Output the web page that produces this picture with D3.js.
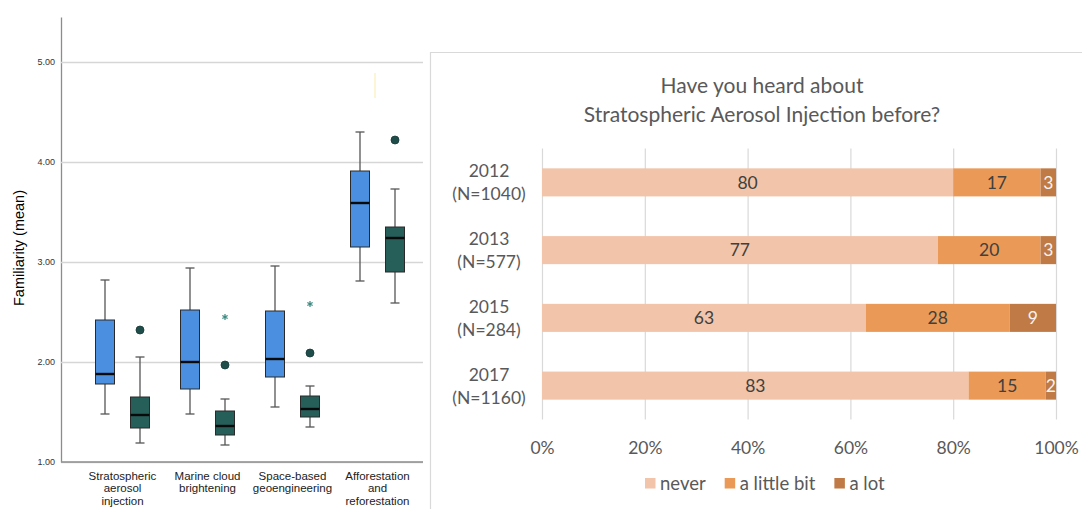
<!DOCTYPE html>
<html>
<head>
<meta charset="utf-8">
<script src="https://cdn.jsdelivr.net/npm/d3@7"></script>
<style>
  body { margin: 0; background: #fff; }
  svg { display: block; }
</style>
</head>
<body>
<script>
/******************************************************************************/
/* DATA                                                                       */
/******************************************************************************/
// left panel: familiarity box plots, two groups per method
var methods = ["Stratospheric aerosol injection", "Marine cloud brightening",
               "Space-based geoengineering", "Afforestation and reforestation"];
var methodLines = [["Stratospheric", "aerosol", "injection"],
                   ["Marine cloud", "brightening"],
                   ["Space-based", "geoengineering"],
                   ["Afforestation", "and", "reforestation"]];
var groups = ["blue", "green"];
// [lower whisker, Q1, median, Q3, upper whisker]
var blueStats  = [[1.48, 1.78, 1.88, 2.42, 2.82],
                  [1.48, 1.73, 2.00, 2.52, 2.94],
                  [1.55, 1.85, 2.03, 2.51, 2.96],
                  [2.81, 3.15, 3.59, 3.91, 4.30]];
var greenStats = [[1.19, 1.34, 1.47, 1.65, 2.05],
                  [1.17, 1.27, 1.36, 1.51, 1.63],
                  [1.35, 1.45, 1.53, 1.66, 1.76],
                  [2.59, 2.90, 3.24, 3.35, 3.73]];
var greenOutliers = [[2.32], [1.97], [2.09], [4.22]];
var greenExtremes = [[], [2.45], [2.58], []];
var familiarityTicks = [1, 2, 3, 4, 5];
var yellowMark = [4.64, 4.89];   // faint stray line above the last box

// right panel: stacked percentages
var years = ["2012", "2013", "2015", "2017"];
var sampleSizes = [1040, 577, 284, 1160];
var answers = ["never", "a little bit", "a lot"];
var never = [80, 77, 63, 83];
var littleBit = [17, 20, 28, 15];
var aLot = [3, 3, 9, 2];
var percentTicks = [0, 20, 40, 60, 80, 100];

/******************************************************************************/
/* GLOBAL                                                                     */
/******************************************************************************/
var width = 1082;
var height = 509;
var boxColors = {blue: "#4a8fe0", green: "#265e59"};
var answerColors = ["#f2c4a9", "#ea9a56", "#c07a45"];
var excelGrey = "#595959";

var svg = d3.select("body").append("svg")
  .attr("width", width)
  .attr("height", height);

/******************************************************************************/
/* BOX PLOTS                                                                  */
/******************************************************************************/
var drawBoxPanel = function() {
  var g = svg.append("g");
  var y = d3.scaleLinear().domain([1, 5.45]).range([462, 17]);
  var x = d3.scaleBand().domain(methods).range([80, 420]);
  var xg = d3.scalePoint().domain(groups).range([-17.5, 17.5]);
  var left = 61, right = 423;

  // grid + y axis
  var yAxis = g.append("g")
    .attr("transform", "translate(" + left + ",0)")
    .call(d3.axisLeft(y).tickValues(familiarityTicks)
      .tickSize(-(right - left)).tickSizeOuter(0).tickPadding(6)
      .tickFormat(d3.format(".2f")));
  yAxis.select(".domain").attr("stroke", "#8c8c8c").attr("stroke-width", 1.3);
  yAxis.selectAll(".tick line").attr("stroke", "#d6d6d6").attr("stroke-width", 1.3);
  yAxis.selectAll(".tick text")
    .attr("font-family", "Liberation Sans, Arial, sans-serif")
    .attr("font-size", 9).attr("fill", "#333");

  g.append("line")
    .attr("x1", left).attr("x2", right)
    .attr("y1", y(1)).attr("y2", y(1))
    .attr("stroke", "#8c8c8c").attr("stroke-width", 1.3);

  g.append("text")
    .attr("transform", "translate(24," + 248 + ") rotate(-90)")
    .attr("text-anchor", "middle")
    .attr("font-family", "Liberation Sans, Arial, sans-serif")
    .attr("font-size", 14.5)
    .attr("fill", "#000")
    .text("Familiarity (mean)");

  // category labels
  methods.forEach(function(m, i) {
    var t = g.append("text")
      .attr("text-anchor", "middle")
      .attr("font-family", "Liberation Sans, Arial, sans-serif")
      .attr("font-size", 11.5)
      .attr("fill", "#222");
    methodLines[i].forEach(function(line, j) {
      t.append("tspan")
        .attr("x", x(m) + x.bandwidth() / 2)
        .attr("y", 480 + j * 12.3)
        .text(line);
    });
  });

  var boxes = [];
  methods.forEach(function(m, i) {
    boxes.push({method: m, group: "blue", s: blueStats[i], out: [], ext: []});
    boxes.push({method: m, group: "green", s: greenStats[i],
                out: greenOutliers[i], ext: greenExtremes[i]});
  });

  var bw = 19, cap = 9;
  var box = g.selectAll("g.box").data(boxes).enter().append("g")
    .attr("class", "box")
    .attr("transform", function(d) {
      return "translate(" + (x(d.method) + x.bandwidth() / 2 + xg(d.group)) + ",0)";
    });

  // whiskers
  box.append("line")
    .attr("y1", function(d) { return y(d.s[0]); })
    .attr("y2", function(d) { return y(d.s[4]); })
    .attr("stroke", "#555").attr("stroke-width", 1.3);
  box.selectAll("line.cap").data(function(d) { return [d.s[0], d.s[4]]; })
    .enter().append("line")
    .attr("class", "cap")
    .attr("x1", -cap / 2).attr("x2", cap / 2)
    .attr("y1", function(v) { return y(v); })
    .attr("y2", function(v) { return y(v); })
    .attr("stroke", "#555").attr("stroke-width", 1.3);

  // box
  box.append("rect")
    .attr("x", -bw / 2).attr("width", bw)
    .attr("y", function(d) { return y(d.s[3]); })
    .attr("height", function(d) { return y(d.s[1]) - y(d.s[3]); })
    .attr("fill", function(d) { return boxColors[d.group]; })
    .attr("stroke", "#2a2a2a").attr("stroke-width", 1);

  // median
  box.append("line")
    .attr("x1", -bw / 2).attr("x2", bw / 2)
    .attr("y1", function(d) { return y(d.s[2]); })
    .attr("y2", function(d) { return y(d.s[2]); })
    .attr("stroke", "#0a0a0a").attr("stroke-width", 2.4);

  // outliers (circles) and extremes (stars)
  box.selectAll("circle").data(function(d) { return d.out; })
    .enter().append("circle")
    .attr("cy", function(v) { return y(v); })
    .attr("r", 4)
    .attr("fill", "#1e4d4a").attr("stroke", "#153836").attr("stroke-width", 0.8);
  box.selectAll("path.star").data(function(d) { return d.ext; })
    .enter().append("path")
    .attr("class", "star")
    .attr("transform", function(v) { return "translate(0," + y(v) + ")"; })
    .attr("d", d3.symbol().type(d3.symbolAsterisk).size(26))
    .attr("fill", "none").attr("stroke", "#3c8a80").attr("stroke-width", 1.2);

  // faint stray mark
  g.append("line")
    .attr("x1", 375).attr("x2", 375)
    .attr("y1", y(yellowMark[0])).attr("y2", y(yellowMark[1]))
    .attr("stroke", "#fbf0b8").attr("stroke-width", 1.2);
};

/******************************************************************************/
/* STACKED BARS                                                               */
/******************************************************************************/
var drawBarPanel = function() {
  var g = svg.append("g");
  var font = "Lato, 'Open Sans', sans-serif";
  var top = 148.5, bottom = 419.5;
  var x = d3.scaleLinear().domain([0, 100]).range([542, 1056]);
  var y = d3.scaleBand().domain(years).range([top, bottom])
    .paddingInner(0.586).paddingOuter(0.293);

  // panel border
  g.append("path")
    .attr("d", "M430.5," + height + "V52.5H" + width)
    .attr("fill", "none").attr("stroke", "#d9d9d9").attr("stroke-width", 1.2);

  // title
  var title = g.append("text")
    .attr("text-anchor", "middle")
    .attr("font-family", font).attr("font-size", 21)
    .attr("fill", excelGrey);
  title.append("tspan").attr("x", 762).attr("y", 93).text("Have you heard about");
  title.append("tspan").attr("x", 762).attr("y", 122).text("Stratospheric Aerosol Injection before?");

  // grid + x axis
  var xAxis = g.append("g")
    .attr("transform", "translate(0," + bottom + ")")
    .call(d3.axisBottom(x).tickValues(percentTicks)
      .tickSize(-(bottom - top)).tickSizeOuter(0).tickPadding(22)
      .tickFormat(function(d) { return d + "%"; }));
  xAxis.select(".domain").remove();
  xAxis.selectAll(".tick line").attr("stroke", "#d9d9d9").attr("stroke-width", 1.2);
  xAxis.selectAll(".tick text")
    .attr("font-family", font).attr("font-size", 17.5).attr("fill", excelGrey);

  // stacked bars
  var table = years.map(function(yr, i) {
    return {year: yr, "never": never[i], "a little bit": littleBit[i], "a lot": aLot[i]};
  });
  var series = d3.stack().keys(answers)(table);

  var layer = g.selectAll("g.layer").data(series).enter().append("g")
    .attr("class", "layer")
    .attr("fill", function(d, i) { return answerColors[i]; });

  layer.selectAll("rect").data(function(d) { return d; })
    .enter().append("rect")
    .attr("x", function(d) { return x(d[0]); })
    .attr("width", function(d) { return x(d[1]) - x(d[0]); })
    .attr("y", function(d) { return y(d.data.year); })
    .attr("height", y.bandwidth());

  layer.selectAll("text").data(function(d, i) {
      return d.map(function(p) { return {p: p, i: i}; });
    })
    .enter().append("text")
    .attr("x", function(d) { return (x(d.p[0]) + x(d.p[1])) / 2; })
    .attr("y", function(d) { return y(d.p.data.year) + y.bandwidth() / 2; })
    .attr("dy", "0.36em")
    .attr("text-anchor", "middle")
    .attr("font-family", font).attr("font-size", 17.5)
    .attr("fill", function(d) { return d.i === 2 ? "#f4f4f4" : "#404040"; })
    .text(function(d) { return d.p[1] - d.p[0]; });

  // category labels
  years.forEach(function(yr, i) {
    var cy = y(yr) + y.bandwidth() / 2;
    var t = g.append("text")
      .attr("text-anchor", "middle")
      .attr("font-family", font).attr("font-size", 17.5)
      .attr("fill", excelGrey);
    t.append("tspan").attr("x", 489).attr("y", cy - 5).text(yr);
    t.append("tspan").attr("x", 489).attr("y", cy + 18).text("(N=" + sampleSizes[i] + ")");
  });

  // legend
  var lx = 645;
  answers.forEach(function(a, i) {
    g.append("rect")
      .attr("x", lx).attr("y", 478).attr("width", 10.5).attr("height", 10.5)
      .attr("fill", answerColors[i]);
    var t = g.append("text")
      .attr("x", lx + 15).attr("y", 490)
      .attr("font-family", font).attr("font-size", 18.5)
      .attr("fill", excelGrey)
      .text(a);
    lx = lx + 15 + t.node().getComputedTextLength() + 19;
  });
};

/******************************************************************************/
/* RUNTIME                                                                    */
/******************************************************************************/
drawBoxPanel();
drawBarPanel();
</script>
</body>
</html>
